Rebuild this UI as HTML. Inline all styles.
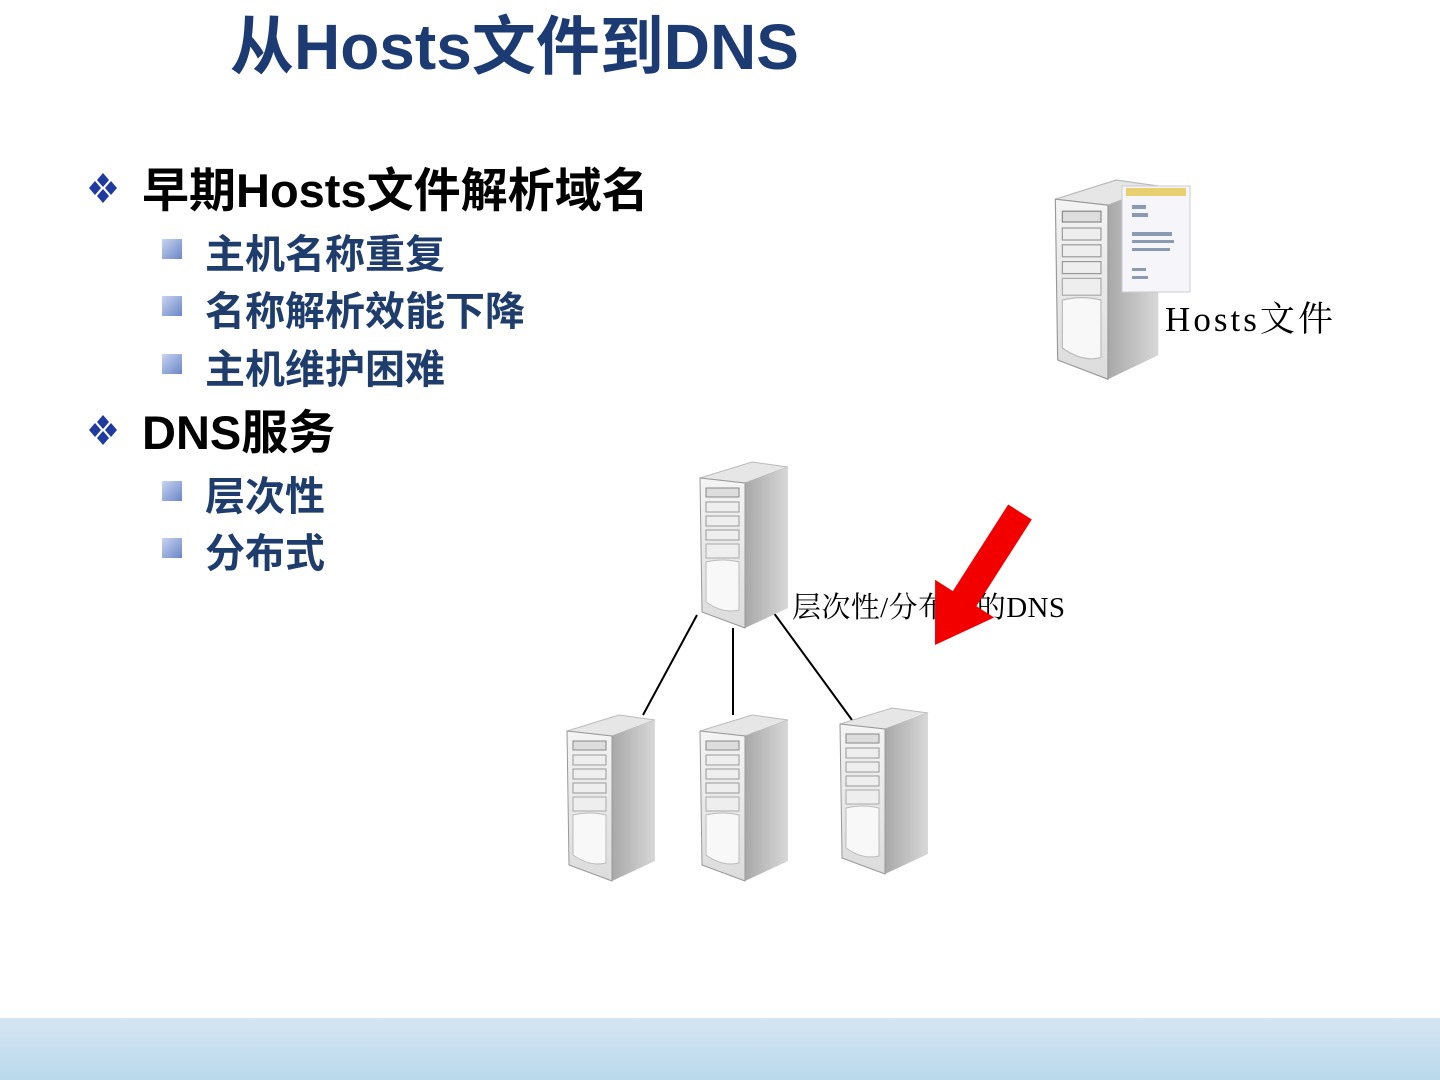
<!DOCTYPE html>
<html><head><meta charset="utf-8"><style>
body{margin:0;width:1440px;height:1080px;background:#fff;position:relative;overflow:hidden;font-family:"Liberation Sans","Noto Sans CJK SC",sans-serif}
.t{position:absolute;white-space:nowrap;font-weight:bold}
.band{position:absolute;left:0;top:1018px;width:1440px;height:62px;background:linear-gradient(#d6e5f2,#b9d9ec)}
</style></head><body>
<div class="t" style="left:230px;top:-4px;font-size:64px;color:#1b3b72;letter-spacing:0px">从Hosts文件到DNS</div>
<div class="t" style="left:142px;top:152px;font-size:47px;color:#000;letter-spacing:0px">早期Hosts文件解析域名</div>
<div class="t" style="left:205px;top:222px;font-size:40px;color:#1e3d6c">主机名称重复</div>
<div class="t" style="left:205px;top:279px;font-size:40px;color:#1e3d6c">名称解析效能下降</div>
<div class="t" style="left:205px;top:337px;font-size:40px;color:#1e3d6c">主机维护困难</div>
<div class="t" style="left:142px;top:394px;font-size:47px;color:#000">DNS服务</div>
<div class="t" style="left:205px;top:464px;font-size:40px;color:#1e3d6c">层次性</div>
<div class="t" style="left:205px;top:521px;font-size:40px;color:#1e3d6c">分布式</div>
<svg width="1440" height="1080" style="position:absolute;left:0;top:0">
<defs>
<linearGradient id="sq" x1="0" y1="0" x2="1" y2="1"><stop offset="0" stop-color="#c8d4f0"/><stop offset="1" stop-color="#6a86c8"/></linearGradient>
<linearGradient id="side" x1="0" y1="0" x2="1" y2="0"><stop offset="0" stop-color="#a8a8a8"/><stop offset="1" stop-color="#d8d8d8"/></linearGradient>
<linearGradient id="front" x1="0" y1="0" x2="0" y2="1"><stop offset="0" stop-color="#f4f4f4"/><stop offset="1" stop-color="#dcdcdc"/></linearGradient>
<g id="diam" fill="#1f3aa0"><path d="M0,-7 L6,0 L0,7 L-6,0Z" transform="translate(0,-8)"/><path d="M0,-7 L6,0 L0,7 L-6,0Z" transform="translate(-8,0)"/><path d="M0,-7 L6,0 L0,7 L-6,0Z" transform="translate(8,0)"/><path d="M0,-7 L6,0 L0,7 L-6,0Z" transform="translate(0,8)"/></g>
<g id="srv">
<polygon points="2,16 47,21 90,5 54,0" fill="#e6e6e6" stroke="#bbb"/>
<polygon points="47,21 90,5 90,146 47,166" fill="url(#side)"/>
<polygon points="2,16 47,21 47,166 4,150" fill="url(#front)" stroke="#999"/>
<rect x="8" y="26" width="33" height="9" fill="#ddd" stroke="#888"/>
<rect x="8" y="40" width="33" height="10" fill="#eee" stroke="#999"/>
<rect x="8" y="54" width="33" height="10" fill="#eee" stroke="#999"/>
<rect x="8" y="68" width="33" height="10" fill="#eee" stroke="#999"/>
<rect x="8" y="82" width="33" height="14" fill="#eee" stroke="#aaa"/>
<path d="M8,100 Q25,96 41,100 L41,148 Q25,152 8,140Z" fill="#f8f8f8" stroke="#bbb"/>
</g>
</defs>
<use href="#diam" x="103" y="188"/>
<use href="#diam" x="103" y="430"/>
<rect x="162" y="239" width="20" height="20" fill="url(#sq)"/>
<rect x="162" y="296" width="20" height="20" fill="url(#sq)"/>
<rect x="162" y="354" width="20" height="20" fill="url(#sq)"/>
<rect x="162" y="481" width="20" height="20" fill="url(#sq)"/>
<rect x="162" y="538" width="20" height="20" fill="url(#sq)"/>
<g stroke="#000" stroke-width="2"><line x1="697" y1="615" x2="643" y2="715"/><line x1="733" y1="628" x2="733" y2="715"/><line x1="768" y1="605" x2="852" y2="720"/></g>
<use href="#srv" transform="translate(698,462)"/>
<use href="#srv" transform="translate(565,715)"/>
<use href="#srv" transform="translate(698,715)"/>
<use href="#srv" transform="translate(838,708)"/>
<use href="#srv" transform="translate(1053,180) scale(1.17,1.2)"/>
<rect x="1122" y="186" width="68" height="106" fill="#f6f6fa" stroke="#ccc"/>
<rect x="1126" y="188" width="60" height="8" fill="#e8d070"/>
<g fill="#8a9ab0"><rect x="1132" y="205" width="14" height="4"/><rect x="1132" y="213" width="16" height="4"/><rect x="1132" y="232" width="40" height="4"/><rect x="1132" y="240" width="42" height="3"/><rect x="1132" y="248" width="38" height="3"/><rect x="1132" y="268" width="14" height="3"/><rect x="1132" y="276" width="16" height="3"/></g>
<text x="1165" y="331" font-family="Liberation Serif,Noto Serif CJK SC,serif" font-size="35" fill="#000" textLength="168">Hosts文件</text>
<text x="792" y="617" font-family="Liberation Serif,Noto Serif CJK SC,serif" font-size="29" fill="#000" textLength="273">层次性/分布式的DNS</text>
<polygon points="1031.8,519.5 976.4,606.1 994.1,617.5 935,645 935.1,579.7 952.8,591.1 1008.2,504.5" fill="#f20000"/>
</svg>
<div class="band"></div>
</body></html>
